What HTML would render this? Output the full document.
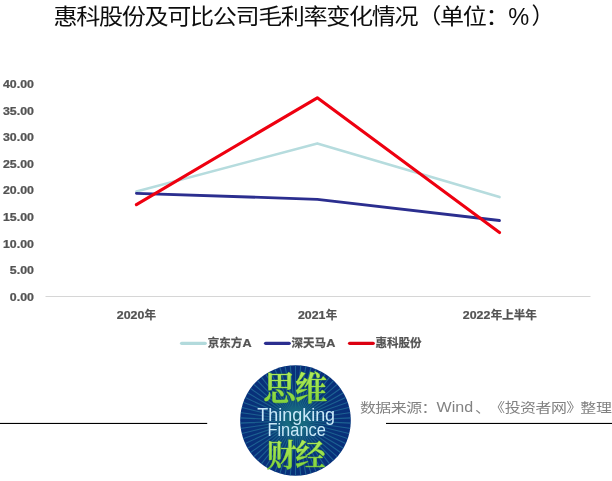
<!DOCTYPE html>
<html lang="zh-CN">
<head>
<meta charset="utf-8">
<title>惠科股份及可比公司毛利率变化情况</title>
<style>
html,body{margin:0;padding:0;background:#fff;}
body{width:612px;height:481px;overflow:hidden;position:relative;font-family:"Liberation Sans","Noto Sans CJK SC",sans-serif;}
svg{position:absolute;left:0;top:0;display:block;}
text{text-spacing-trim:space-all;}
.title{font-family:"Liberation Sans","Noto Sans CJK SC",sans-serif;font-size:22.75px;fill:#0d0d0d;}
.ax{font-family:"Liberation Sans","Noto Sans CJK SC",sans-serif;font-weight:bold;font-size:11px;fill:#535353;stroke:#535353;stroke-width:0.25px;}
.ax .cj{font-size:11.5px;}
.src{font-family:"Liberation Sans","Noto Sans CJK SC",sans-serif;font-size:15.3px;fill:#828282;}
.cn{font-family:"Liberation Serif","Noto Serif CJK SC",serif;font-weight:600;fill:url(#gg);stroke:#62b02c;stroke-width:0.7px;paint-order:stroke;stroke-linejoin:round;}
.en{font-family:"Liberation Sans","Noto Sans CJK SC",sans-serif;font-size:17.8px;fill:#c8e8f8;}
</style>
</head>
<body>
<svg width="612" height="481" viewBox="0 0 612 481">
<defs>
<radialGradient id="bg" cx="50%" cy="50%" r="50%">
<stop offset="0" stop-color="#0f6070"/>
<stop offset="0.3" stop-color="#0c4a76"/>
<stop offset="0.6" stop-color="#093478"/>
<stop offset="1" stop-color="#082f7a"/>
</radialGradient>
<radialGradient id="rg" gradientUnits="userSpaceOnUse" cx="0" cy="0" r="56">
<stop offset="0" stop-color="#239090" stop-opacity="0.3"/>
<stop offset="0.4" stop-color="#26809c" stop-opacity="0.5"/>
<stop offset="1" stop-color="#2a80a4" stop-opacity="0.65"/>
</radialGradient>
<linearGradient id="gg" x1="0" y1="0" x2="0" y2="1">
<stop offset="0" stop-color="#b4ec5a"/>
<stop offset="1" stop-color="#7ccf3a"/>
</linearGradient>
<clipPath id="cc"><circle cx="295.5" cy="420.5" r="55.3"/></clipPath>
</defs>
<rect width="612" height="481" fill="#fff"/>
<text class="title" transform="translate(53.6 23.6) scale(1.06 0.95)" letter-spacing="-1.288" id="title">惠科股份及可比公司毛利率变化情况<tspan dy="-1">（</tspan><tspan dy="1">单位：</tspan></text>
<text class="title" transform="translate(508.3 24.5) scale(0.96 1)" style="font-size:24.6px" id="pct">%</text>
<text class="title" x="531.6" y="23.6" id="rp">）</text>
<g class="ax" id="ylab"><text transform="translate(33.9 88.1) scale(1.125 1)" text-anchor="end">40.00</text><text transform="translate(33.9 114.7) scale(1.125 1)" text-anchor="end">35.00</text><text transform="translate(33.9 141.2) scale(1.125 1)" text-anchor="end">30.00</text><text transform="translate(33.9 167.8) scale(1.125 1)" text-anchor="end">25.00</text><text transform="translate(33.9 194.3) scale(1.125 1)" text-anchor="end">20.00</text><text transform="translate(33.9 220.9) scale(1.125 1)" text-anchor="end">15.00</text><text transform="translate(33.9 247.5) scale(1.125 1)" text-anchor="end">10.00</text><text transform="translate(33.9 274.0) scale(1.125 1)" text-anchor="end">5.00</text><text transform="translate(33.9 300.6) scale(1.125 1)" text-anchor="end">0.00</text></g>
<line x1="45.5" y1="296.5" x2="590.5" y2="296.5" stroke="#d6d6d6" stroke-width="1"/>
<g fill="none" stroke-linecap="round" stroke-linejoin="round">
<polyline points="136.4,191.6 317.3,143.4 499.5,197.1" stroke="#b6dcde" stroke-width="2.6"/>
<polyline points="136.4,193.3 317.3,199.3 499.5,220.5" stroke="#2b2e8f" stroke-width="2.8"/>
<polyline points="136.4,204.6 317.3,97.8 499.5,232.5" stroke="#ee0010" stroke-width="3.1"/>
</g>
<g class="ax" id="xlab">
<text transform="translate(116.8 319.2) scale(1.125 1)">2020</text><text class="cj" x="144.6" y="319.2">年</text>
<text transform="translate(298.0 319.2) scale(1.125 1)">2021</text><text class="cj" x="325.8" y="319.2">年</text>
<text transform="translate(462.8 319.2) scale(1.125 1)">2022</text><text class="cj" x="490.7" y="319.2">年上半年</text>
</g>
<g stroke-linecap="round" stroke-width="3.3">
<line x1="181.6" y1="343.3" x2="205.2" y2="343.3" stroke="#b2dadc"/>
<line x1="265.6" y1="343.3" x2="289.2" y2="343.3" stroke="#2b2e8f"/>
<line x1="349.6" y1="343.3" x2="373.2" y2="343.3" stroke="#dc0010"/>
</g>
<g class="ax" id="leg">
<text class="cj" x="207.7" y="347.3" id="l1">京东方</text><text transform="translate(242.4 347.3) scale(1.15 1)">A</text>
<text class="cj" x="291.5" y="347.3" id="l2">深天马</text><text transform="translate(326.2 347.3) scale(1.15 1)">A</text>
<text class="cj" x="375.6" y="347.3" id="l3">惠科股份</text>
</g>
<rect x="0" y="422.9" width="207.2" height="1.1" fill="#000"/>
<rect x="386" y="422.9" width="226" height="1.1" fill="#000"/>
<circle cx="295.5" cy="420.5" r="55.3" fill="url(#bg)"/>
<g clip-path="url(#cc)"><path transform="translate(295.5 420.5)" d="M5.99 0.29L59.93 2.85M5.94 0.85L59.39 8.54M5.83 1.41L58.31 14.15M5.67 1.96L56.70 19.62M5.46 2.49L54.58 24.92M5.20 3.00L51.96 30.00M4.89 3.48L48.87 34.80M4.53 3.93L45.34 39.29M4.14 4.34L41.40 43.42M3.71 4.72L37.09 47.16M3.24 5.05L32.44 50.48M2.75 5.33L27.49 53.33M2.23 5.57L22.30 55.70M1.69 5.76L16.90 57.57M1.14 5.89L11.36 58.92M0.57 5.97L5.70 59.73M0.00 6.00L0.00 60.00M-0.57 5.97L-5.70 59.73M-1.14 5.89L-11.36 58.92M-1.69 5.76L-16.90 57.57M-2.23 5.57L-22.30 55.70M-2.75 5.33L-27.49 53.33M-3.24 5.05L-32.44 50.48M-3.71 4.72L-37.09 47.16M-4.14 4.34L-41.40 43.42M-4.53 3.93L-45.34 39.29M-4.89 3.48L-48.87 34.80M-5.20 3.00L-51.96 30.00M-5.46 2.49L-54.58 24.92M-5.67 1.96L-56.70 19.62M-5.83 1.41L-58.31 14.15M-5.94 0.85L-59.39 8.54M-5.99 0.29L-59.93 2.85M-5.99 -0.29L-59.93 -2.85M-5.94 -0.85L-59.39 -8.54M-5.83 -1.41L-58.31 -14.15M-5.67 -1.96L-56.70 -19.62M-5.46 -2.49L-54.58 -24.92M-5.20 -3.00L-51.96 -30.00M-4.89 -3.48L-48.87 -34.80M-4.53 -3.93L-45.34 -39.29M-4.14 -4.34L-41.40 -43.42M-3.71 -4.72L-37.09 -47.16M-3.24 -5.05L-32.44 -50.48M-2.75 -5.33L-27.49 -53.33M-2.23 -5.57L-22.30 -55.70M-1.69 -5.76L-16.90 -57.57M-1.14 -5.89L-11.36 -58.92M-0.57 -5.97L-5.70 -59.73M-0.00 -6.00L-0.00 -60.00M0.57 -5.97L5.70 -59.73M1.14 -5.89L11.36 -58.92M1.69 -5.76L16.90 -57.57M2.23 -5.57L22.30 -55.70M2.75 -5.33L27.49 -53.33M3.24 -5.05L32.44 -50.48M3.71 -4.72L37.09 -47.16M4.14 -4.34L41.40 -43.42M4.53 -3.93L45.34 -39.29M4.89 -3.48L48.87 -34.80M5.20 -3.00L51.96 -30.00M5.46 -2.49L54.58 -24.92M5.67 -1.96L56.70 -19.62M5.83 -1.41L58.31 -14.15M5.94 -0.85L59.39 -8.54M5.99 -0.29L59.93 -2.85" stroke="url(#rg)" stroke-width="1.05" fill="none"/></g>
<text class="cn" font-size="32.6" y="399.9" id="c1"><tspan x="263.2">思</tspan><tspan x="294.8">维</tspan></text>
<text class="en" x="257.3" y="421.1" textLength="77.8" lengthAdjust="spacingAndGlyphs" id="e1">Thingking</text>
<text class="en" x="267.4" y="435.6" textLength="58.5" lengthAdjust="spacingAndGlyphs" id="e2">Finance</text>
<text class="cn" font-size="30.2" y="465.7" id="c2"><tspan x="266.6">财</tspan><tspan x="295.3">经</tspan></text>
<g class="src" id="src">
<text transform="translate(359.9 412.4) scale(1.04 0.85)" letter-spacing="-0.45">数据来源：</text>
<text transform="translate(436.6 412.4) scale(1.05 0.9)">Wind</text>
<text transform="translate(475.0 412.4) scale(1.04 0.85)">、</text>
<text transform="translate(489.2 412.4) scale(1.04 0.85)" letter-spacing="-0.45">《投资者网》</text>
<text transform="translate(580.3 412.4) scale(1.04 0.85)" letter-spacing="-0.3">整理</text>
</g>
</svg>
</body>
</html>
